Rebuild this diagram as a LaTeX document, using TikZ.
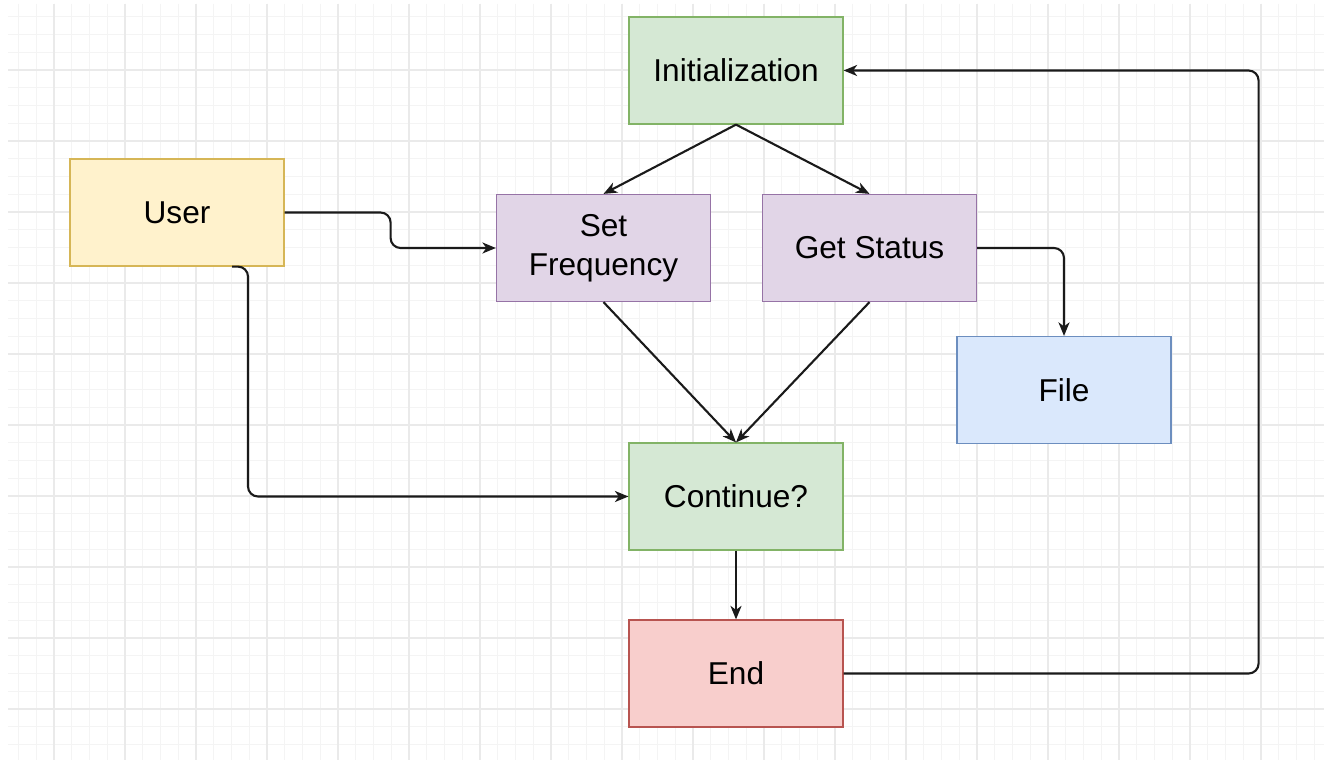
\documentclass[tikz,border=0pt]{standalone}
\usepackage{fontspec}
\setmainfont{Liberation Sans}
\usetikzlibrary{arrows.meta,calc}

\definecolor{gridminor}{HTML}{F4F4F4}
\definecolor{gridmajor}{HTML}{EAEAEA}
\definecolor{greenfill}{HTML}{D5E8D4}
\definecolor{greenline}{HTML}{82B366}
\definecolor{yellowfill}{HTML}{FFF2CC}
\definecolor{yellowline}{HTML}{D6B656}
\definecolor{purplefill}{HTML}{E1D5E7}
\definecolor{purpleline}{HTML}{9673A6}
\definecolor{bluefill}{HTML}{DAE8FC}
\definecolor{blueline}{HTML}{6C8EBF}
\definecolor{redfill}{HTML}{F8CECC}
\definecolor{redline}{HTML}{B85450}
\definecolor{edgecol}{HTML}{1A1A1A}

\tikzset{
  box/.style={draw, line width=0.7pt, minimum width=4.28cm, minimum height=2.14cm,
    inner sep=0pt, align=center, font=\fontsize{18}{22}\selectfont, text=black},
  greenbox/.style={box, fill=greenfill, draw=greenline},
  yellowbox/.style={box, fill=yellowfill, draw=yellowline},
  purplebox/.style={box, fill=purplefill, draw=purpleline},
  bluebox/.style={box, fill=bluefill, draw=blueline},
  redbox/.style={box, fill=redfill, draw=redline},
  flow/.style={draw=edgecol, line width=1.2pt, rounded corners=0.2cm,
    -{Stealth[length=0.27cm, width=0.22cm, inset=0.08cm]}},
}

\begin{document}
\begin{tikzpicture}[x=0.02cm, y=-0.02cm]
  % canvas
  \useasboundingbox (0,0) rectangle (1324,760);
  \fill[white] (0,0) rectangle (1324,760);

  % background grid
  \begin{scope}
    \clip (8,4) rectangle (1324,760);
    \foreach \j in {-3,...,71} {
      \draw[gridminor, line width=0.5pt] ({54+17.75*\j},4) -- ({54+17.75*\j},760);
    }
    \foreach \j in {-4,...,39} {
      \draw[gridminor, line width=0.5pt] (8,{70+17.75*\j}) -- (1324,{70+17.75*\j});
    }
    \foreach \k in {-1,...,18} {
      \draw[gridmajor, line width=0.6pt] ({54+71*\k},4) -- ({54+71*\k},760);
    }
    \foreach \k in {-1,...,10} {
      \draw[gridmajor, line width=0.6pt] (8,{70+71*\k}) -- (1324,{70+71*\k});
    }
  \end{scope}

  % process boxes
  \node[greenbox]  (init) at (736,70.5)  {Initialization};
  \node[yellowbox] (user) at (177,212.5) {User};
  \node[purplebox] (setf) at (603.5,248) {Set\\Frequency};
  \node[purplebox] (gets) at (869.5,248) {Get Status};
  \node[bluebox]   (file) at (1064,390)  {File};
  \node[greenbox]  (cont) at (736,496.5) {Continue?};
  \node[redbox]    (endn) at (736,673.5) {End};

  % connectors
  \draw[flow] (init.south) -- (setf.north);
  \draw[flow] (init.south) -- (gets.north);
  \draw[flow] (user.east) -- ++(106,0) |- (setf.west);
  \draw[flow] ($(user.south)+(55,0)$) -- ++(16,0) |- (cont.west);
  \draw[flow] (setf.south) -- (cont.north);
  \draw[flow] (gets.south) -- (cont.north);
  \draw[flow] (gets.east) -| (file.north);
  \draw[flow] (cont.south) -- (endn.north);
  \draw[flow] (endn.east) -- ++(415,0) |- (init.east);
\end{tikzpicture}
\end{document}
